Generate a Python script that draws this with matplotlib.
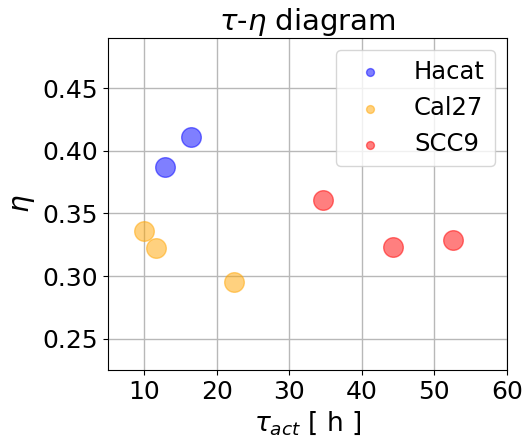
import matplotlib
matplotlib.use('Agg')
import matplotlib.pyplot as plt

# activation time (h) and eta for each cell line
hacat_tau = [12.9, 16.5]
hacat_eta = [0.387, 0.411]
cal27_tau = [10.0, 11.6, 22.4]
cal27_eta = [0.336, 0.322, 0.295]
scc9_tau = [34.7, 44.3, 52.6]
scc9_eta = [0.361, 0.323, 0.329]

fig = plt.figure(figsize=(5.22, 4.41), dpi=100)
ax = fig.add_axes([0.207, 0.161, 0.764, 0.753])

ax.scatter(hacat_tau, hacat_eta, s=200, color='blue', alpha=0.5, label='Hacat', zorder=3)
ax.scatter(cal27_tau, cal27_eta, s=200, color='orange', alpha=0.5, label='Cal27', zorder=3)
ax.scatter(scc9_tau, scc9_eta, s=200, color='red', alpha=0.5, label='SCC9', zorder=3)

ax.set_xlim(5, 60)
ax.set_ylim(0.225, 0.49)
ax.set_xticks([10, 20, 30, 40, 50, 60])
ax.set_yticks([0.25, 0.30, 0.35, 0.40, 0.45])
ax.tick_params(labelsize=18)
ax.grid(True, color='#b8b8b8', linewidth=1)
ax.set_axisbelow(True)

ax.set_xlabel(r'$\tau_{act}$ [ h ]', fontsize=19)
ax.set_ylabel(r'$\eta$', fontsize=20)
ax.set_title(r'$\tau$-$\eta$ diagram', fontsize=21)
ax.legend(fontsize=17.5, markerscale=0.4, loc='upper right')

fig.savefig('out.png', dpi=100)
